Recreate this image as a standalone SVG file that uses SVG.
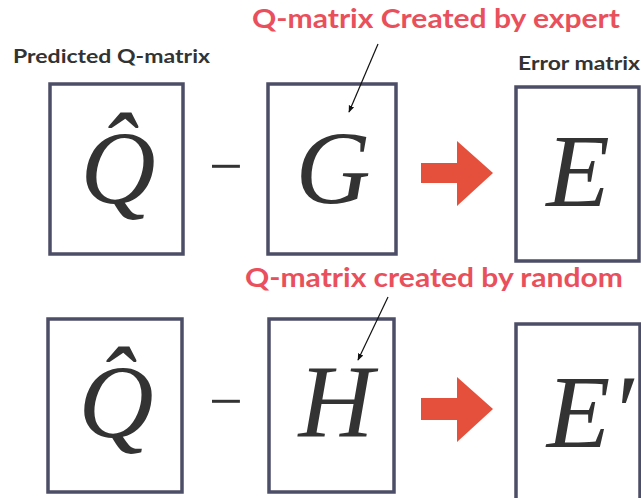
<svg xmlns="http://www.w3.org/2000/svg" width="641" height="498" viewBox="0 0 641 498">
<style>
.box{fill:#fff;stroke:#4c4d66;stroke-width:3.5}
.m{font-family:"Liberation Serif","DejaVu Serif",serif;font-style:italic;font-size:104px;fill:#333;text-anchor:middle}
.op{font-family:"Liberation Serif","DejaVu Serif",serif;font-size:60px;fill:#333;text-anchor:middle}
.lbl{font-family:Lato,"Open Sans","Liberation Sans",sans-serif;font-weight:700;font-size:19px;fill:#333}
.red{font-family:Lato,"Open Sans","Liberation Sans",sans-serif;font-weight:700;font-size:27px;fill:#e9505c}
.big{fill:#e4503b}
.ptr{stroke:#111;stroke-width:1.2;fill:none;marker-end:url(#ah)}
</style>
<defs>
<marker id="ah" viewBox="0 0 10 10" refX="9" refY="5" markerWidth="7" markerHeight="7" orient="auto" markerUnits="userSpaceOnUse">
<path d="M0,1 L10,5 L0,9 Z" fill="#111"/>
</marker>
</defs>
<rect width="641" height="498" fill="#fff"/>
<g id="labels">
<text class="lbl" x="13" y="63" textLength="197" lengthAdjust="spacingAndGlyphs">Predicted Q-matrix</text>
<text class="lbl" x="518" y="70" textLength="122" lengthAdjust="spacingAndGlyphs">Error matrix</text>
<text class="red" x="252" y="28" textLength="368" lengthAdjust="spacingAndGlyphs">Q-matrix Created by expert</text>
<text class="red" x="245" y="287" textLength="378" lengthAdjust="spacingAndGlyphs">Q-matrix created by random</text>
</g>
<g id="qhat1">
<rect class="box" x="50" y="84" width="133" height="170"/>
<text class="m" x="118" y="203">Q̂</text>
</g>
<g id="minus1"><text class="op" x="226" y="186">−</text></g>
<g id="G">
<rect class="box" x="268" y="84" width="128" height="170"/>
<text class="m" x="333" y="203">G</text>
</g>
<g id="E">
<rect class="box" x="516" y="87" width="123" height="174"/>
<text class="m" x="578" y="206">E</text>
</g>
<g id="qhat2">
<rect class="box" x="48" y="319" width="134" height="173"/>
<text class="m" x="116" y="437">Q̂</text>
</g>
<g id="minus2"><text class="op" x="226" y="421">−</text></g>
<g id="H">
<rect class="box" x="269" y="319" width="125" height="173"/>
<text class="m" x="336" y="437">H</text>
</g>
<g id="Eprime">
<rect class="box" x="516" y="324" width="124" height="180"/>
<text class="m" x="590" y="447">E′</text>
</g>
<g id="connectors">
<path class="big" d="M421,163 H457 V141 L493,173 L457,206 V183 H421 Z"/>
<path class="big" d="M421,398 H457 V377 L493,409 L457,442 V420 H421 Z"/>
<line class="ptr" x1="378" y1="44" x2="349" y2="112"/>
<line class="ptr" x1="388" y1="297" x2="358" y2="360"/>
</g>
</svg>
